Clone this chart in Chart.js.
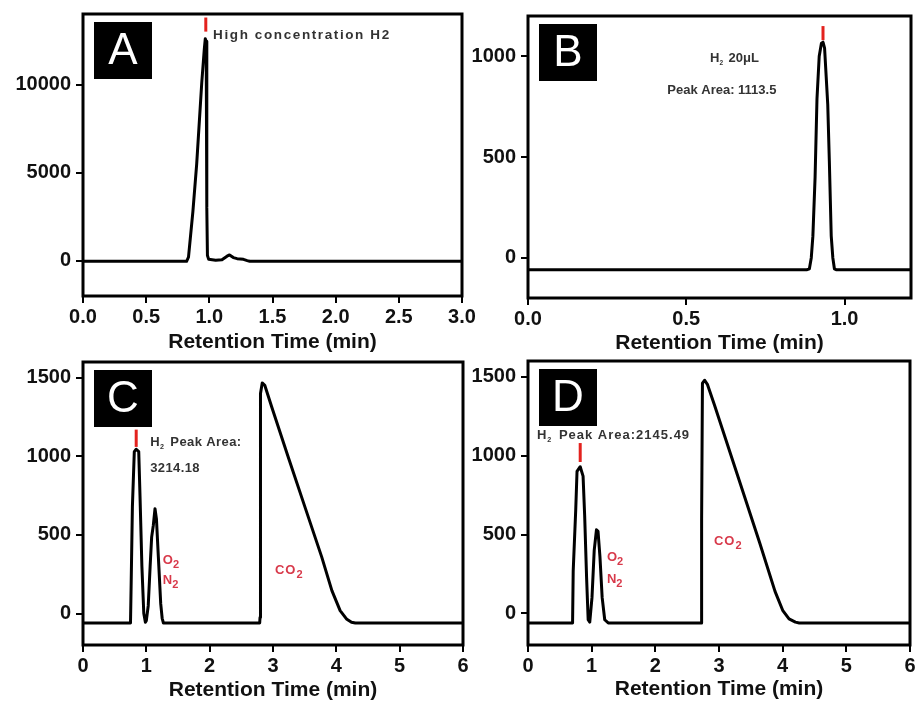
<!DOCTYPE html>
<html>
<head>
<meta charset="utf-8">
<title>GC chromatograms</title>
<script src="https://cdn.jsdelivr.net/npm/chart.js@4.4.0/dist/chart.umd.min.js"></script>
<style>
  body { margin: 0; background: #fff; }
  #wrap { position: relative; width: 916px; height: 702px; overflow: hidden; background: #fff; }
  canvas { position: absolute; }
</style>
</head>
<body>
<div id="wrap">
  <canvas id="chart-a" width="480" height="355" style="left:0;top:0"></canvas>
  <canvas id="chart-b" width="456" height="355" style="left:460px;top:0"></canvas>
  <canvas id="chart-c" width="470" height="352" style="left:0;top:350px"></canvas>
  <canvas id="chart-d" width="456" height="352" style="left:460px;top:350px"></canvas>
</div>
<script>
// A: high concentration H2 injection
const timeA   = [0, 0.82, 0.835, 0.87, 0.90, 0.94, 0.96, 0.968, 0.975, 0.98, 0.985, 0.995, 1.05, 1.10, 1.14, 1.16, 1.19, 1.22, 1.27, 1.30, 1.32, 3.0];
const signalA = [-30, -30, 200, 2800, 5500, 10100, 12000, 12600, 12450, 3000, 300, 80, 30, 60, 260, 330, 180, 120, 80, 10, -30, -30];

// B: 20 uL H2 standard
const timeB   = [0, 0.88, 0.889, 0.895, 0.90, 0.907, 0.913, 0.92, 0.927, 0.932, 0.937, 0.942, 0.947, 0.952, 0.958, 0.963, 0.968, 0.975, 1.21];
const signalB = [-60, -60, -55, 0, 107, 400, 790, 1000, 1065, 1070, 1040, 900, 760, 480, 107, 0, -55, -60, -60];

// C: sample 1 (H2, O2/N2, CO2)
const timeC   = [0, 0.75, 0.76, 0.78, 0.81, 0.84, 0.88, 0.90, 0.93, 0.96, 0.985, 1.0, 1.03, 1.06, 1.084, 1.11, 1.137, 1.16, 1.19, 1.227, 1.25, 1.27,
                 2.79, 2.795, 2.80, 2.805, 2.83, 2.87, 2.98, 3.24, 3.505, 3.77, 3.93, 4.06, 4.16, 4.24, 4.30, 6.0];
const signalC = [-60, -60, 180, 680, 1030, 1045, 1030, 750, 300, 0, -55, -45, 50, 300, 486, 560, 667, 600, 359, 63, -30, -60,
                 -60, -25, -20, 1400, 1467, 1452, 1314, 996, 677, 359, 146, 19, -34, -55, -60, -60];

// D: sample 2 (H2, O2/N2, CO2)
const timeD   = [0, 0.70, 0.71, 0.75, 0.77, 0.82, 0.865, 0.89, 0.92, 0.945, 0.97, 1.005, 1.04, 1.075, 1.10, 1.13, 1.165, 1.205, 1.26,
                 2.725, 2.727, 2.74, 2.775, 2.82, 2.93, 3.38, 3.64, 3.88, 4.00, 4.10, 4.20, 4.26, 6.0];
const signalD = [-60, -60, 270, 660, 900, 930, 870, 620, 230, -40, -55, 100, 400, 530, 520, 360, 100, -40, -60,
                 -60, 600, 1460, 1478, 1450, 1320, 766, 447, 140, 20, -35, -55, -60, -60];

// red peak markers: [time, from, to]
const markA = [0.972, 13000, 13800];
const markB = [0.932, 1080, 1150];
const markC = [0.84, 1060, 1170];
const markD = [0.82, 960, 1080];

// axis ticks
const xTicksA = [0, 0.5, 1.0, 1.5, 2.0, 2.5, 3.0];
const yTicksA = [0, 5000, 10000];
const xTicksB = [0, 0.5, 1.0];
const yTicksB = [0, 500, 1000];
const xTicksCD = [0, 1, 2, 3, 4, 5, 6];
const yTicksCD = [0, 500, 1000, 1500];

Chart.defaults.font.family = '"Liberation Sans", Arial, sans-serif';
Chart.defaults.color = '#111';

const FONT = '"Liberation Sans", Arial, sans-serif';

// text with "_2" style subscripts
function drawRich(ctx, text, px, py, n) {
  const size = n.size || 13;
  const parts = text.split(/(_\d)/);
  let cx = px;
  ctx.fillStyle = n.color || '#333';
  ctx.textBaseline = 'middle';
  ctx.textAlign = 'left';
  ctx.letterSpacing = (n.spacing || 0) + 'px';
  parts.forEach(p => {
    if (!p) return;
    const sub = p.startsWith('_');
    const s = sub ? p.slice(1) : p;
    const fs = sub ? size * (n.subScale || 0.75) : size;
    ctx.font = `bold ${fs}px ${FONT}`;
    ctx.fillText(s, cx, py + (sub ? size * 0.35 : 0));
    cx += ctx.measureText(s).width + (sub ? 2 : 0);
  });
}

const panelNotes = {
  id: 'panelNotes',
  afterDraw(chart, args, opts) {
    const { ctx, chartArea: a, scales: { x, y } } = chart;
    ctx.save();
    ctx.strokeStyle = '#000';
    ctx.lineWidth = 3;
    ctx.strokeRect(a.left, a.top, a.right - a.left, a.bottom - a.top);

    // panel letter
    const bx = a.left + 11, by = a.top + 8;
    ctx.fillStyle = '#000';
    ctx.fillRect(bx, by, 58, 57);
    ctx.fillStyle = '#fff';
    ctx.font = `44px ${FONT}`;
    ctx.textAlign = 'center';
    ctx.textBaseline = 'middle';
    ctx.fillText(opts.letter, bx + 29, by + 30);

    (opts.notes || []).forEach(n => {
      drawRich(ctx, n.text, x.getPixelForValue(n.x), y.getPixelForValue(n.y), n);
    });
    ctx.restore();
  }
};

function makeChart(id, time, signal, mark, p) {
  const trace = time.map((t, i) => ({ x: t, y: signal[i] }));
  const peak = [{ x: mark[0], y: mark[1] }, { x: mark[0], y: mark[2] }];
  return new Chart(document.getElementById(id), {
    type: 'line',
    data: {
      datasets: [
        { data: trace, borderColor: '#000', borderWidth: 3, pointRadius: 0, tension: 0, borderJoinStyle: 'round' },
        { data: peak, borderColor: '#e3221e', borderWidth: 3, pointRadius: 0 }
      ]
    },
    options: {
      responsive: false,
      animation: false,
      layout: { padding: { top: p.top, right: p.right, left: 0, bottom: 0 } },
      plugins: {
        legend: { display: false },
        tooltip: { enabled: false },
        panelNotes: { letter: p.letter, notes: p.notes }
      },
      scales: {
        x: {
          type: 'linear',
          min: p.xMin, max: p.xMax,
          border: { display: false },
          grid: { drawOnChartArea: false, drawTicks: true, tickLength: 7, lineWidth: 2, color: '#000' },
          ticks: {
            padding: 2,
            font: { size: 20, weight: 'bold' },
            color: '#111',
            maxRotation: 0,
            callback: v => p.xDigits ? Number(v).toFixed(p.xDigits) : String(v)
          },
          afterBuildTicks: s => { s.ticks = p.xTicks.map(v => ({ value: v })); },
          afterFit: s => { s.height = p.xHeight; s.paddingLeft = 0; s.paddingRight = 0; },
          title: {
            display: true,
            text: 'Retention Time (min)',
            color: '#111',
            font: { size: 21, weight: 'bold', lineHeight: 1 },
            padding: { top: 0, bottom: p.titlePad }
          }
        },
        y: {
          min: p.yMin, max: p.yMax,
          border: { display: false },
          grid: { drawOnChartArea: false, drawTicks: true, tickLength: 7, lineWidth: 2, color: '#000' },
          ticks: {
            padding: 5,
            font: { size: 20, weight: 'bold' },
            color: '#111',
            callback: v => String(v)
          },
          afterBuildTicks: s => { s.ticks = p.yTicks.map(v => ({ value: v })); },
          afterFit: s => { s.width = p.yWidth; s.paddingTop = 0; s.paddingBottom = 0; }
        }
      }
    },
    plugins: [panelNotes]
  });
}

const red = '#d8394a';

makeChart('chart-a', timeA, signalA, markA, {
  letter: 'A', top: 14, right: 18, yWidth: 83, xHeight: 59, titlePad: 2.5,
  xMin: 0, xMax: 3, yMin: -2000, yMax: 14000, xTicks: xTicksA, yTicks: yTicksA, xDigits: 1,
  notes: [
    { text: 'High concentration H2', x: 1.03, y: 12800, size: 13.5, spacing: 1.6 }
  ]
});

makeChart('chart-b', timeB, signalB, markB, {
  letter: 'B', top: 16, right: 5, yWidth: 68, xHeight: 57, titlePad: 1.5,
  xMin: 0, xMax: 1.21, yMin: -200, yMax: 1200, xTicks: xTicksB, yTicks: yTicksB, xDigits: 1,
  notes: [
    { text: 'H_2 20μL', x: 0.575, y: 990, size: 13, subScale: 0.5 },
    { text: 'Peak Area: 1113.5', x: 0.44, y: 832, size: 13 }
  ]
});

makeChart('chart-c', timeC, signalC, markC, {
  letter: 'C', top: 12, right: 7, yWidth: 83, xHeight: 57, titlePad: 1.5,
  xMin: 0, xMax: 6, yMin: -200, yMax: 1600, xTicks: xTicksCD, yTicks: yTicksCD, xDigits: 0,
  notes: [
    { text: 'H_2 Peak Area:', x: 1.06, y: 1089, size: 13, subScale: 0.55, spacing: 0.4 },
    { text: '3214.18', x: 1.06, y: 924, size: 13, spacing: 0.4 },
    { text: 'O_2', x: 1.26, y: 338, size: 13, color: red, subScale: 0.85 },
    { text: 'N_2', x: 1.26, y: 210, size: 13, color: red, subScale: 0.85 },
    { text: 'CO_2', x: 3.03, y: 274, size: 13, color: red, subScale: 0.85, spacing: 1 }
  ]
});

makeChart('chart-d', timeD, signalD, markD, {
  letter: 'D', top: 11, right: 6, yWidth: 68, xHeight: 57, titlePad: 2.5,
  xMin: 0, xMax: 6, yMin: -200, yMax: 1600, xTicks: xTicksCD, yTicks: yTicksCD, xDigits: 0,
  notes: [
    { text: 'H_2 Peak Area:2145.49', x: 0.14, y: 1127, size: 13, subScale: 0.55, spacing: 1 },
    { text: 'O_2', x: 1.24, y: 357, size: 13, color: red, subScale: 0.85 },
    { text: 'N_2', x: 1.24, y: 217, size: 13, color: red, subScale: 0.85 },
    { text: 'CO_2', x: 2.92, y: 459, size: 13, color: red, subScale: 0.85, spacing: 1 }
  ]
});
</script>
</body>
</html>
